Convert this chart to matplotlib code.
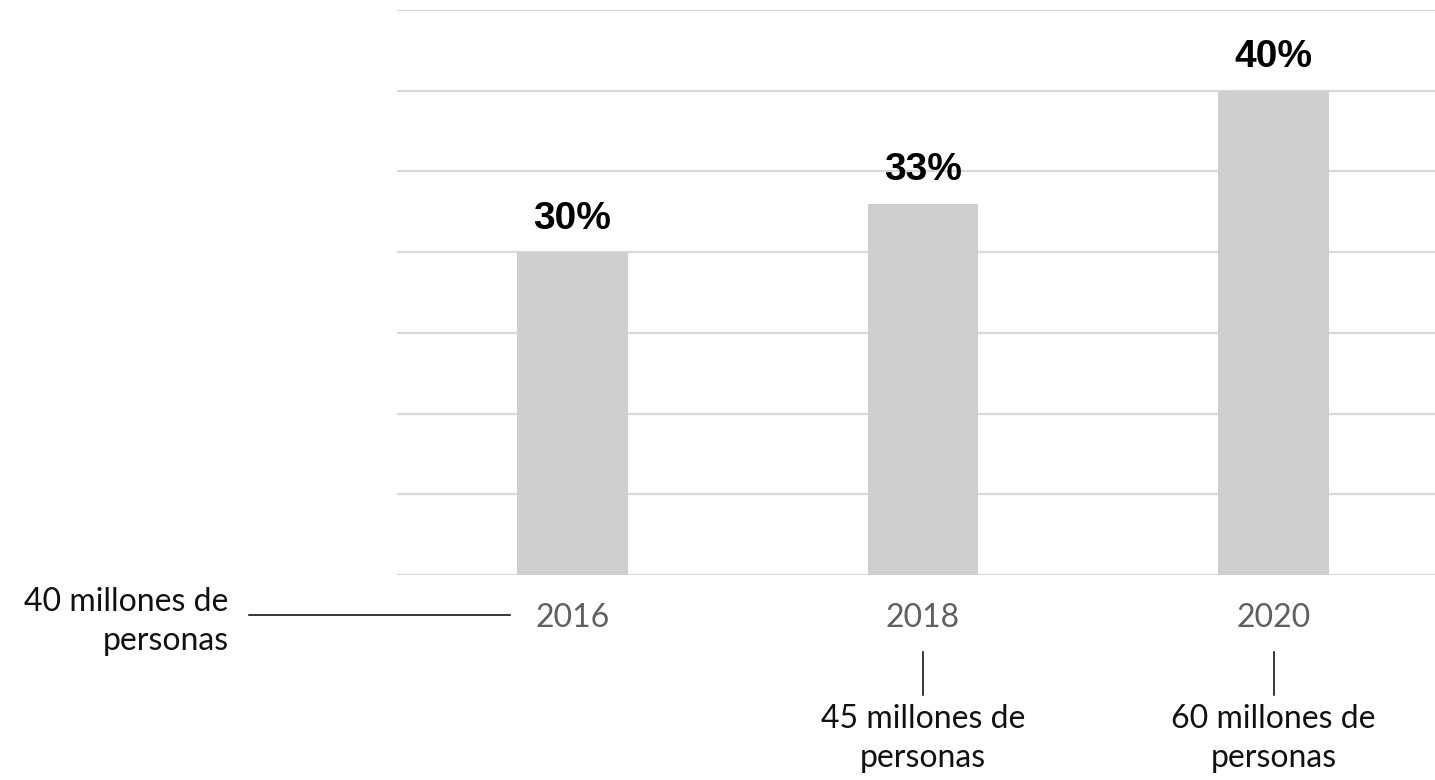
import matplotlib.pyplot as plt
import numpy as np

# Survey share per year and the population each share stands for
years = ["2016", "2018", "2020"]
shares = [30, 33, 40]
share_labels = ["30%", "33%", "40%"]
people = ["40 millones de\npersonas", "45 millones de\npersonas", "60 millones de\npersonas"]

BAR = "#d0cece"
GRID = "#d9d9d9"

fig = plt.figure(figsize=(14.35, 7.8), dpi=100)
ax = fig.add_axes([0.2767, 0.2628, 0.7233, 0.7244])

x = np.arange(len(years))
ax.bar(x, shares, width=0.316, color=BAR, zorder=2)

ax.set_xlim(-0.5, 2.46)
ax.set_ylim(10, 45)
ax.set_yticks(np.arange(10, 46, 5))
ax.yaxis.grid(True, color=GRID, linewidth=1.6, zorder=0)
ax.tick_params(axis="y", left=False, labelleft=False)
ax.tick_params(axis="x", length=0, pad=20)
ax.set_xticks(x)
ax.set_xticklabels(years, fontsize=23, color="#606060", family=["Lato", "DejaVu Sans"])
for s in ax.spines.values():
    s.set_visible(False)

# value labels above each bar
for xi, v, lab in zip(x, shares, share_labels):
    ax.annotate(lab, (xi, v), xytext=(0, 11), textcoords="offset points",
                ha="center", va="bottom", fontsize=28, fontweight="bold",
                family=["Liberation Sans", "DejaVu Sans"], color="black")

xt = ax.get_xaxis_transform()
txt_kw = dict(fontsize=23, color="#111111", family=["Lato", "DejaVu Sans"],
              linespacing=1.4)

# 2016: horizontal leader to the left of the axis
ax.plot([-0.923, -0.177], [-0.071, -0.071], transform=xt, color="black",
        linewidth=1.1, clip_on=False)
ax.text(-0.98, -0.082, people[0], transform=xt, ha="right", va="center",
        multialignment="right", **txt_kw)

# 2018 and 2020: vertical leaders below the year labels
for xi, lab in zip(x[1:], people[1:]):
    ax.plot([xi, xi], [-0.136, -0.212], transform=xt, color="black",
            linewidth=1.1, clip_on=False)
    ax.text(xi, -0.228, lab, transform=xt, ha="center", va="top",
            multialignment="center", **txt_kw)

fig.savefig("out.png", dpi=100)
